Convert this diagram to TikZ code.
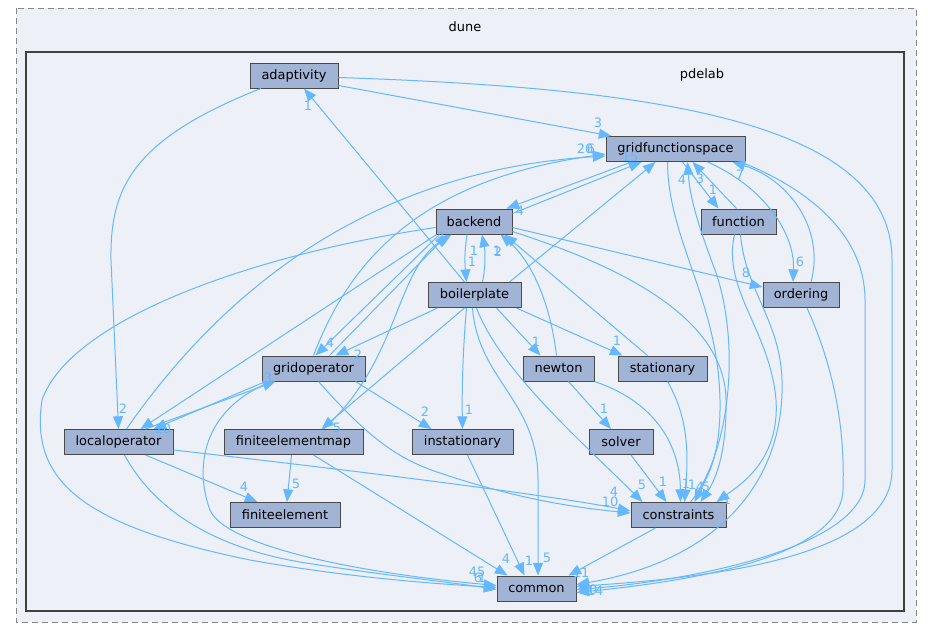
\documentclass[tikz,border=0pt]{standalone}
\usepackage{fontspec}
\setmainfont{DejaVu Sans}
\usetikzlibrary{arrows.meta,calc}
\definecolor{edgec}{HTML}{63B8FF}
\definecolor{nodefill}{HTML}{A2B4D6}
\definecolor{nodedraw}{HTML}{4A4A4A}
\definecolor{clfill}{HTML}{EDF0F7}
\definecolor{duneline}{HTML}{868686}
\definecolor{pdeline}{HTML}{404040}
\begin{document}
\begin{tikzpicture}[x=0.75pt,y=-0.75pt,
 dirbox/.style={draw=nodedraw,fill=nodefill,line width=0.75pt,inner sep=0pt,minimum height=18.75pt,font=\fontsize{9.7}{11}\selectfont,text=black},
 dep/.style={draw=edgec,line width=0.75pt,-{Triangle[length=9.5pt,width=7.5pt]}},
 lab/.style={text=edgec,font=\fontsize{9.7}{11}\selectfont,inner sep=0pt},
 cltext/.style={font=\fontsize{9.7}{11}\selectfont,text=black,inner sep=0pt}]
\fill[white] (0,0) rectangle (931,639);
\useasboundingbox (0,0) rectangle (931,639);
% clusters
\filldraw[fill=clfill,draw=duneline,dash pattern=on 4.5pt off 3pt,line width=0.75pt] (16,8) rectangle (916,622);
\node[cltext] (dunelab) at (465,27) {dune};
\filldraw[fill=clfill,draw=pdeline,line width=1.6pt] (26,52) rectangle (904,611);
\node[cltext] (pdelablab) at (702,75) {pdelab};
% nodes
\node[dirbox,minimum width=66pt] (adapt) at (294,75.5) {adaptivity};
\node[dirbox,minimum width=104.25pt] (gfs) at (675.5,149) {gridfunctionspace};
\node[dirbox,minimum width=57pt] (back) at (474,221.5) {backend};
\node[dirbox,minimum width=56.25pt] (fun) at (738.5,221.5) {function};
\node[dirbox,minimum width=69.75pt] (bp) at (474.5,295) {boilerplate};
\node[dirbox,minimum width=57pt] (ord) at (801,295) {ordering};
\node[dirbox,minimum width=77.25pt] (go) at (313.5,368.5) {gridoperator};
\node[dirbox,minimum width=53.25pt] (newt) at (558.5,368.5) {newton};
\node[dirbox,minimum width=66.75pt] (stat) at (662.5,368.5) {stationary};
\node[dirbox,minimum width=81.75pt] (lo) at (118.5,442) {localoperator};
\node[dirbox,minimum width=104.25pt] (fem) at (293.5,442) {finiteelementmap};
\node[dirbox,minimum width=75.75pt] (inst) at (462.5,442) {instationary};
\node[dirbox,minimum width=48pt] (solv) at (621,442) {solver};
\node[dirbox,minimum width=82.5pt] (fe) at (285,515) {finiteelement};
\node[dirbox,minimum width=71.25pt] (cons) at (678.5,515) {constraints};
\node[dirbox,minimum width=59.25pt] (com) at (536.5,588.5) {common};
% adaptivity
\draw[dep] (adapt) .. controls (130,140) and (110,190) .. (111,260) -- (lo.north);
\draw[dep] ($(adapt.east)+(0,10)$) -- ($(gfs.north west)+(6,0)$);
\draw[dep] ($(adapt.east)+(0,2)$) .. controls (650,88) and (892,120) .. (892,260) -- (892,470) .. controls (892,560) and (700,578) .. ($(com.east)+(0,-2)$);
% gridfunctionspace
\draw[dep] ($(gfs.south east)+(-5,0)$) .. controls (800,185) and (865,230) .. (865,300) -- (865,480) .. controls (865,545) and (700,580) .. ($(com.east)+(0,1)$);
\draw[dep] ($(gfs.south east)+(-38,0)$) .. controls (760,185) and (795,230) .. ($(ord.north)+(-8,0)$);
\draw[dep] ($(gfs.south)+(7,0)$) -- ($(fun.north)+(-20,0)$);
\draw[dep] ($(gfs.south)+(-8,0)$) .. controls (668,240) and (718,300) .. (720,400) .. controls (721,460) and (705,480) .. ($(cons.north)+(16,0)$);
\draw[dep] ($(gfs.south west)+(26,0)$) -- ($(back.north east)+(-6,0)$);
% ordering
\draw[dep] ($(ord.north)+(10,0)$) .. controls (825,230) and (790,180) .. ($(gfs.south east)+(-13,0)$);
\draw[dep] ($(ord.south)+(6,0)$) .. controls (835,370) and (845,430) .. (843,490) .. controls (840,560) and (680,582) .. ($(com.east)+(0,4)$);
% function
\draw[dep] ($(fun.north)+(-2,0)$) -- ($(gfs.south)+(17,0)$);
\draw[dep] ($(fun.south)+(2,0)$) .. controls (745,290) and (780,320) .. (782,380) .. controls (785,480) and (720,560) .. ($(com.east)+(0,-4)$);
\draw[dep] ($(fun.south)+(-4,0)$) .. controls (722,290) and (770,330) .. (776,400) .. controls (780,460) and (740,485) .. ($(cons.north east)+(-10,0)$);
% constraints
\draw[dep] ($(cons.north)+(12,0)$) .. controls (732,450) and (740,340) .. (715,270) .. controls (700,230) and (690,200) .. ($(gfs.south)+(12,0)$);
\draw[dep] ($(cons.south)+(-23,0)$) -- ($(com.north east)+(-8,0)$);
% backend
\draw[dep] ($(back.east)+(0,10)$) .. controls (600,260) and (725,310) .. (726,400) .. controls (727,460) and (712,485) .. ($(cons.north)+(22,0)$);
\draw[dep] ($(back.east)+(0,6)$) -- ($(ord.west)+(0,-8)$);
\draw[dep] ($(back.north east)+(0,5)$) -- ($(gfs.south west)+(36,0)$);
\draw[dep] ($(back.south)+(-7,0)$) .. controls (464,255) and (465,265) .. ($(bp.north)+(-8,0)$);
\draw[dep] ($(back.south west)+(1,0)$) -- ($(lo.north east)+(-33,0)$);
\draw[dep] ($(back.south west)+(4,0)$) -- ($(go.north)+(2,0)$);
\draw[dep] ($(back.west)+(0,6)$) .. controls (250,255) and (70,320) .. (42,400) .. controls (30,480) and (80,525) .. (250,560) .. controls (350,578) and (440,584) .. ($(com.west)+(0,-1)$);
% boilerplate
\draw[dep] ($(bp.north)+(8,0)$) .. controls (486,265) and (485,250) .. ($(back.south)+(8,0)$);
\draw[dep] ($(bp.north)+(-10,0)$) -- ($(adapt.south)+(10,0)$);
\draw[dep] ($(bp.north east)+(-12,0)$) -- ($(gfs.south)+(-20,0)$);
\draw[dep] ($(bp.south west)+(10,0)$) -- ($(go.north east)+(-30,0)$);
\draw[dep] ($(bp.south)+(-10,0)$) -- ($(fem.north)+(28,0)$);
\draw[dep] ($(bp.south)+(-8,0)$) .. controls (462,360) and (462,400) .. (inst.north);
\draw[dep] ($(bp.south east)+(-25,0)$) -- ($(newt.north)+(-18,0)$);
\draw[dep] ($(bp.south east)+(-5,0)$) -- ($(stat.north)+(-40,0)$);
\draw[dep] ($(bp.south)+(2,0)$) .. controls (500,370) and (580,440) .. ($(cons.north west)+(12,0)$);
\draw[dep] ($(bp.south)+(-2,0)$) .. controls (478,380) and (538,400) .. (538,480) -- ($(com.north)+(1.5,0)$);
% gridoperator
\draw[dep] (go.north) .. controls (350,260) and (420,180) .. ($(gfs.west)+(0,5)$);
\draw[dep] ($(go.north)+(16,0)$) -- ($(back.south west)+(12,0)$);
\draw[dep] ($(go.south west)+(4,0)$) -- ($(lo.north east)+(-20,0)$);
\draw[dep] ($(go.south east)+(-10,0)$) -- ($(inst.north west)+(20,0)$);
\draw[dep] ($(go.south)+(5,0)$) .. controls (370,440) and (400,460) .. (440,473) .. controls (520,500) and (580,508) .. ($(cons.west)+(0,-2)$);
\draw[dep] ($(go.south west)+(10,0)$) .. controls (200,410) and (195,470) .. (210,510) .. controls (225,545) and (350,572) .. ($(com.west)+(0,-3)$);
% localoperator
\draw[dep] ($(lo.north)+(8,0)$) .. controls (230,280) and (380,170) .. ($(gfs.west)+(0,7)$);
\draw[dep] ($(lo.north east)+(-28,0)$) -- ($(go.south west)+(14,0)$);
\draw[dep] ($(lo.east)+(0,8)$) .. controls (350,470) and (550,495) .. ($(cons.west)+(0,-4)$);
\draw[dep] ($(lo.south)+(27,0)$) -- ($(fe.north west)+(28,0)$);
\draw[dep] ($(lo.south)+(6,0)$) .. controls (160,520) and (230,550) .. (300,562) .. controls (380,575) and (450,582) .. ($(com.west)+(0,1)$);
% finiteelementmap
\draw[dep] ($(fem.north)+(30,0)$) .. controls (400,360) and (395,270) .. ($(back.south west)+(16,0)$);
\draw[dep] ($(fem.south)+(-2,0)$) -- ($(fe.north)+(2,0)$);
\draw[dep] ($(fem.south)+(20,0)$) -- ($(com.north west)+(11,0)$);
% instationary
\draw[dep] ($(inst.south)+(5,0)$) -- ($(com.north)+(-12,0)$);
% newton
\draw[dep] ($(newt.north)+(-2,0)$) .. controls (550,300) and (530,260) .. ($(back.south east)+(-12,0)$);
\draw[dep] ($(newt.south)+(10,0)$) -- ($(solv.north)+(-10,0)$);
\draw[dep] (newt.south east) .. controls (650,400) and (680,440) .. ($(cons.north)+(2,0)$);
% stationary
\draw[dep] ($(stat.north)+(-15,0)$) -- ($(back.south east)+(-8,0)$);
\draw[dep] ($(stat.south)+(5,0)$) .. controls (690,420) and (688,460) .. ($(cons.north)+(6,0)$);
% solver
\draw[dep] ($(solv.south)+(10,0)$) -- ($(cons.north)+(-12,0)$);
% labels
\node[lab] (l1) at (123,409) {2};
\node[lab] (l2) at (598,123) {3};
\node[lab] (l3) at (308,106) {1};
\node[lab] (l4) at (589,590) {10};
\node[lab] (l5) at (595,591) {14};
\node[lab] (l6) at (585,149) {20};
\node[lab] (l7) at (591,149) {6};
\node[lab] (l8) at (630,157) {15};
\node[lab] (l9) at (520,211) {4};
\node[lab] (l10) at (474,251) {1};
\node[lab] (l11) at (472,262) {1};
\node[lab] (l12) at (498,252) {2};
\node[lab] (l13) at (497,251) {1};
\node[lab] (l14) at (442,237) {1};
\node[lab] (l15) at (330,343) {4};
\node[lab] (l16) at (358,355) {2};
\node[lab] (l17) at (268,378) {3};
\node[lab] (l18) at (163,429) {10};
\node[lab] (l19) at (337,428) {5};
\node[lab] (l20) at (469,410) {1};
\node[lab] (l21) at (425,412) {2};
\node[lab] (l22) at (536,342) {1};
\node[lab] (l23) at (617,341) {1};
\node[lab] (l24) at (604,409) {1};
\node[lab] (l25) at (642,485) {5};
\node[lab] (l26) at (663,482) {1};
\node[lab] (l27) at (686,484) {1};
\node[lab] (l28) at (692,485) {1};
\node[lab] (l29) at (700,487) {4};
\node[lab] (l30) at (706,487) {5};
\node[lab] (l31) at (727,500) {1};
\node[lab] (l32) at (614,492) {4};
\node[lab] (l33) at (610,502) {10};
\node[lab] (l34) at (244,487) {4};
\node[lab] (l35) at (296,484) {5};
\node[lab] (l36) at (506,559) {4};
\node[lab] (l37) at (529,561) {1};
\node[lab] (l38) at (547,558) {5};
\node[lab] (l39) at (581,573) {11};
\node[lab] (l40) at (477,572) {45};
\node[lab] (l41) at (478,578) {6};
\node[lab] (l42) at (482,578) {1};
\node[lab] (l43) at (800,262) {6};
\node[lab] (l44) at (746,273) {8};
\node[lab] (l45) at (740,175) {7};
\node[lab] (l46) at (713,190) {1};
\node[lab] (l47) at (700,179) {3};
\node[lab] (l48) at (682,180) {4};
\end{tikzpicture}
\end{document}
